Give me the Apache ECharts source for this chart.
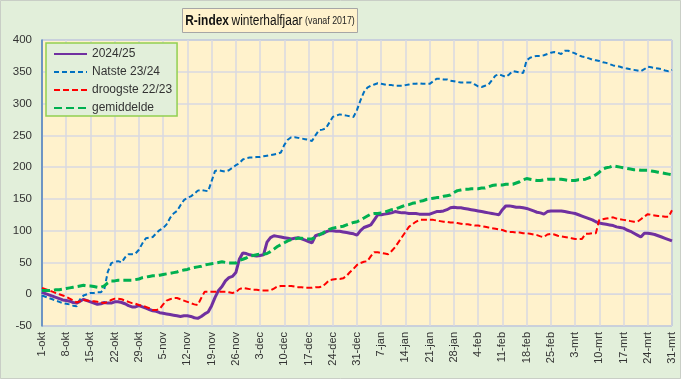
<!DOCTYPE html>
<html>
<head>
<meta charset="utf-8">
<script src="https://cdn.jsdelivr.net/npm/echarts@6/dist/echarts.min.js"></script>
<style>html,body{margin:0;padding:0;background:#E2EFDA;}#c{width:681px;height:379px;}</style>
</head>
<body>
<div id="c"></div>
<script>
// x categories: daily dates 1-okt .. 31-mrt (calendar with 29-feb)
const monthNames = ['okt','nov','dec','jan','feb','mrt'];
const monthDays  = [31,30,31,31,29,31];
const categories = [];
monthNames.forEach((m,k)=>{ for(let d=1; d<=monthDays[k]; d++) categories.push(d+'-'+m); });

const yTicks = {min:-50, max:400, step:50};

const seriesNames = ['2024/25','Natste 23/24','droogste 22/23','gemiddelde'];

const s2425 = [3,1,-1,-3,-5,-7,-9,-10,-11,-13,-14,-11,-8,-10,-12,-14,-16,-15,-13,-14,
-14,-12,-12,-13,-15,-18,-20,-20,-18,-20,-22,-24,-26,-27,-29,-30,-31,-32,-33,-34,
-35,-34,-34,-35,-37,-38,-35,-31,-28,-18,-5,6,12,21,26,28,34,55,65,64,
62,61,60,61,62,82,89,92,91,90,89,88,87,88,89,87,85,83,81,92,
94,95,98,100,100,99,99,98,97,96,95,93,100,105,107,109,117,125,125,126,
127,128,130,129,128,128,127,127,127,126,126,126,126,128,130,130,131,133,136,137,
136,136,135,134,133,132,131,130,129,128,127,126,125,133,139,139,138,137,137,136,
135,133,131,129,128,126,130,131,131,131,131,130,129,128,127,125,123,121,119,117,
114,112,111,110,109,108,106,105,104,101,99,96,93,90,96,96,95,94,92,90,
88,86,84];

const natste = [-2,-4,-6,-8,-10,-12,-14,-15,-16,-18,-19,-8,-2,0,2,2,3,3,8,35,
49,51,52,50,58,63,63,64,70,80,88,89,90,96,101,104,110,120,127,131,
140,148,152,154,158,163,164,163,162,178,194,195,194,193,195,199,203,206,212,214,
215,215,216,216,217,218,219,220,221,223,235,243,247,247,246,245,244,243,241,250,
258,259,261,270,279,281,283,282,281,280,279,290,305,318,325,328,330,332,331,330,
329,329,328,328,328,329,330,331,331,332,331,331,331,335,339,339,338,338,336,335,
334,333,333,333,333,330,327,326,328,330,337,344,346,344,342,346,351,350,349,348,
368,372,374,375,375,376,378,380,381,380,378,383,383,381,379,376,374,373,371,369,
368,367,365,364,362,360,359,358,356,355,354,353,352,351,354,358,357,356,355,354,
352,351,353];

const droogste = [10,8,6,4,2,0,-2,-4,-7,-10,-13,-11,-9,-10,-11,-11,-12,-13,-14,-12,
-9,-7,-7,-8,-10,-12,-14,-15,-17,-18,-20,-22,-25,-25,-23,-16,-10,-8,-6,-6,
-8,-10,-12,-14,-16,-17,-6,4,4,4,4,4,4,4,3,2,3,8,10,9,
8,7,7,6,6,6,6,9,12,13,13,13,13,12,11,11,10,10,10,11,
11,12,17,22,23,24,24,25,29,35,40,46,49,51,52,60,66,66,65,64,
63,68,74,82,90,98,106,110,114,117,117,117,117,117,116,115,114,114,113,113,
112,111,110,110,109,108,108,107,106,105,104,103,102,101,99,98,98,97,97,96,
96,95,94,93,91,90,94,95,94,92,91,90,89,88,87,87,87,95,95,96,
96,117,118,119,120,121,119,118,117,116,115,114,114,118,122,126,125,124,123,123,
122,122,132];

const gemiddelde = [6,6,6,6,7,7,8,9,10,11,12,13,14,13,13,12,11,11,13,18,
21,21,22,22,22,22,22,23,24,26,27,28,29,29,30,31,32,33,34,35,
37,38,39,41,42,43,44,46,47,48,49,50,51,50,49,49,49,53,55,57,
60,61,62,63,63,64,67,71,75,78,81,84,86,87,88,88,87,87,87,90,
93,96,99,102,104,105,106,107,109,111,113,114,117,120,123,126,127,127,128,129,
131,133,134,136,138,140,141,143,144,146,147,149,150,151,152,152,154,155,156,160,
163,164,165,165,166,166,166,167,167,169,171,172,172,172,173,173,173,175,177,180,
182,181,180,179,179,180,181,181,181,181,181,180,179,179,179,180,180,181,183,185,
188,192,197,199,200,202,201,200,199,198,197,196,196,195,195,195,194,193,192,191,
190,189,188];

const FONT = "'Liberation Sans', Arial, sans-serif";
const chart = echarts.init(document.getElementById('c'), null, {renderer:'canvas'});

chart.setOption({
  animation: false,
  backgroundColor: '#E2EFDA',
  textStyle: {fontFamily: FONT},
  graphic: [
    {type:'rect', x:0.5, y:0.5, shape:{x:0, y:0, width:680, height:378}, style:{fill:'none', stroke:'#C9CEC6', lineWidth:1}, z:-1, silent:true},
    {type:'rect', x:182.5, y:8.5, shape:{x:0, y:0, width:175, height:24}, style:{fill:'#FFF2CC', stroke:'#A6A6A6', lineWidth:1}, z:10, silent:true},
    {type:'text', x:270, y:21, scaleX:0.77, scaleY:1, z:11, silent:true, style:{
        text:'{b|R-index} {n|winterhalfjaar} {s|(vanaf 2017)}',
        align:'center', verticalAlign:'middle',
        rich:{
          b:{fontFamily:FONT, fontWeight:'bold', fontSize:15.5, fill:'#111'},
          n:{fontFamily:FONT, fontSize:15.5, fill:'#111'},
          s:{fontFamily:FONT, fontSize:11.5, fill:'#222'}
        }
    }}
  ],
  legend: {
    data: seriesNames,
    orient: 'vertical',
    left: 46, top: 43,
    padding: [5, 5, 2, 7],
    itemWidth: 33, itemHeight: 12, itemGap: 6,
    backgroundColor: '#E2EFDA',
    borderColor: '#92D050', borderWidth: 1.5,
    itemStyle: {opacity: 0, borderWidth: 0},
    textStyle: {fontSize: 12, color: '#333', fontFamily: FONT}
  },
  grid: {
    left: 42, right: 9, top: 40, bottom: 53,
    show: true, backgroundColor: '#FFF2CC',
    borderColor: '#4F81BD', borderWidth: 1
  },
  xAxis: {
    type: 'category',
    data: categories,
    boundaryGap: false,
    axisLine: {show: true, lineStyle: {color: '#D9D9DE', width: 1}},
    axisTick: {show: false},
    axisLabel: {interval: 6, rotate: 90, fontSize: 11, color: '#333', margin: 6, fontFamily: FONT},
    splitLine: {show: true, interval: 6, lineStyle: {color: '#D9D9E2', width: 1.5}}
  },
  yAxis: {
    type: 'value',
    min: yTicks.min, max: yTicks.max, interval: yTicks.step,
    axisLine: {show: true, lineStyle: {color: '#4F81BD', width: 1.5}},
    axisTick: {show: false},
    axisLabel: {fontSize: 11.5, color: '#333', margin: 10, fontFamily: FONT},
    splitLine: {show: true, lineStyle: {color: '#D9D9E2', width: 1.5}}
  },
  series: [
    {name: seriesNames[0], type: 'line', data: s2425, symbol: 'none', lineStyle: {color: '#7030A0', width: 3}, itemStyle:{color:'#7030A0'}, z: 2},
    {name: seriesNames[1], type: 'line', data: natste, symbol: 'none', lineStyle: {color: '#0070C0', width: 2, type: [5, 3]}, itemStyle:{color:'#0070C0'}, z: 3},
    {name: seriesNames[2], type: 'line', data: droogste, symbol: 'none', lineStyle: {color: '#FF0000', width: 2, type: [6, 3]}, itemStyle:{color:'#FF0000'}, z: 3},
    {name: seriesNames[3], type: 'line', data: gemiddelde, symbol: 'none', lineStyle: {color: '#00B050', width: 3, type: [8, 4]}, itemStyle:{color:'#00B050'}, z: 3}
  ]
});
</script>
</body>
</html>
